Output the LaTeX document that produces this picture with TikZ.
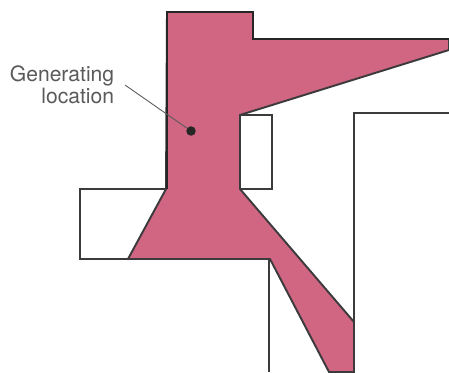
\documentclass[tikz,border=0pt]{standalone}
\usepackage{fontspec}
\setmainfont{TeX Gyre Heros}
\definecolor{rose}{HTML}{D06682}
\definecolor{wall}{HTML}{3C3A3C}
\definecolor{ink}{HTML}{5A5A5C}
\tikzset{
  wallline/.style={draw=wall,line width=1.1pt,line join=miter},
  chamber/.style={wallline,fill=rose},
  roofline/.style={draw=black!85,line width=1.35pt,line join=miter},
  genpoint/.style={circle,fill=black!85,minimum size=5.4pt,inner sep=0pt},
  genlabel/.style={font=\fontsize{12}{12.4}\selectfont,text=ink,align=right,anchor=east,inner ysep=0pt,inner xsep=6pt},
  leader/.style={draw=ink,line width=0.5pt}
}
\begin{document}
\begin{tikzpicture}[x=0.02cm,y=-0.02cm]
      \useasboundingbox (0,0) rectangle (449,372);
      \begin{scope}
        \clip (0,0) rectangle (449,372);
        % walls behind the flow
        \draw[wallline] (166,189) -- (80,189) -- (80,259) -- (128,259);
        \draw[wallline] (240,115) -- (272,115) -- (272,189) -- (240,189);
        \draw[wallline] (269,259) -- (269,372);
        \draw[wallline] (354,322) -- (354,113) -- (449,113);
        % flow area
        \draw[chamber] (167,12) -- (253,12) -- (253,39) -- (449,39) -- (449,50) -- (240,115) -- (240,189) -- (354,322) -- (354,372) -- (329,372) -- (270,259) -- (128,259) -- (166,189) -- cycle;
        \draw[roofline] (167,189) -- (167,12) -- (253,12) -- (253,39) -- (449,39);
      \end{scope}
      \node[genpoint] (source) at (191,131) {};
      \node[genlabel] (genloc) at (125,85) {Generating\\location};
      \draw[leader] (genloc.east) -- (source);
    \end{tikzpicture}
\end{document}
